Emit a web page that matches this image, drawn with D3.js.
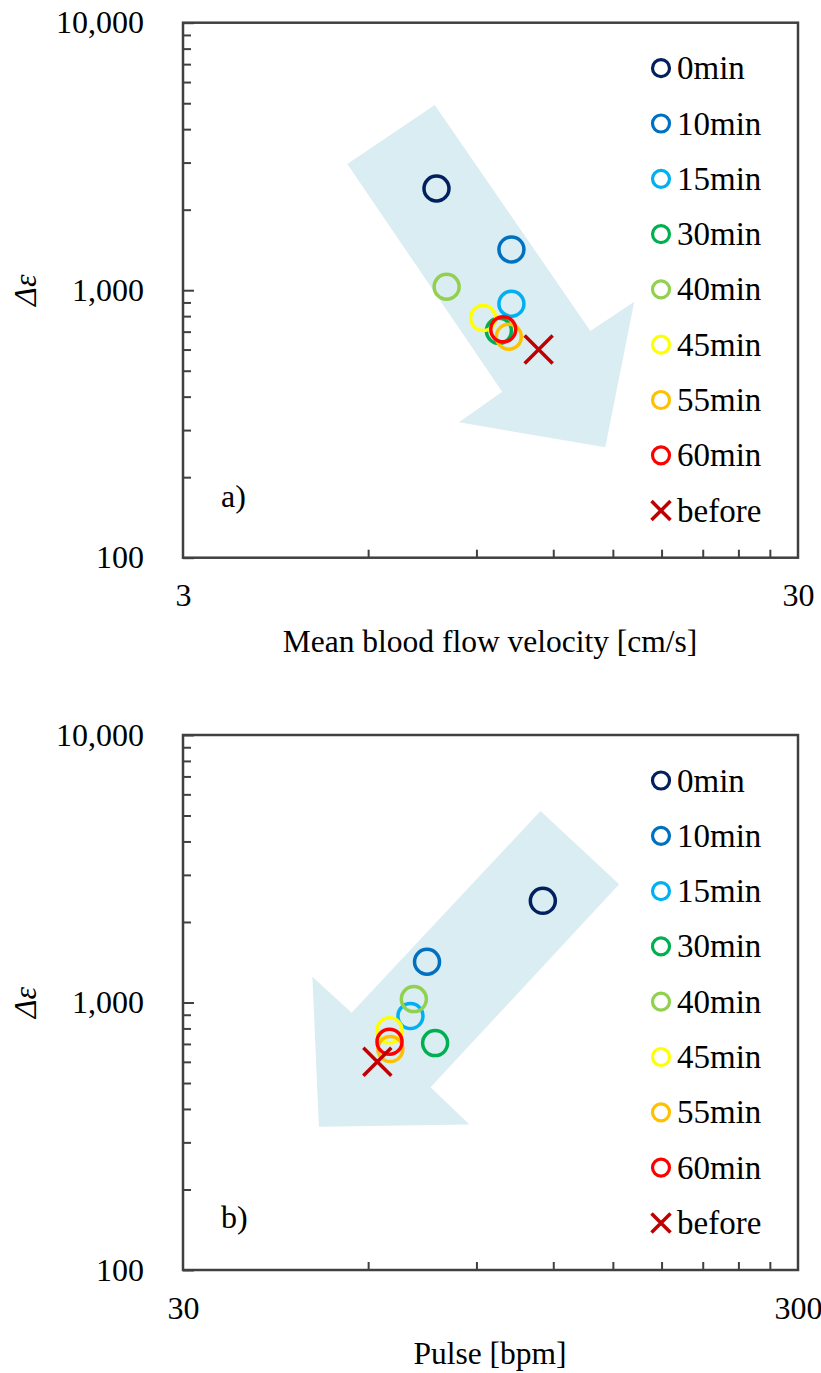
<!DOCTYPE html>
<html>
<head>
<meta charset="utf-8">
<script src="https://cdn.jsdelivr.net/npm/d3@7"></script>
<style>
  html, body { margin: 0; padding: 0; background: #fff; }
  svg { display: block; }
</style>
</head>
<body>
<script>
// Series (elapsed time after start) and their marker colours
const seriesNames = ["0min", "10min", "15min", "30min", "40min", "45min", "55min", "60min", "before"];
const seriesColors = ["#002060", "#0070C0", "#00B0F0", "#00B050", "#92D050", "#FFFF00", "#FFC000", "#FF0000", "#C00000"];

// Measured values per series
const meanVelocity = [7.75, 10.26, 10.26, 9.79, 8.05, 9.23, 10.16, 9.95, 11.36];   // cm/s
const pulseRate    = [115.4, 74.8, 70.3, 77.1, 71.2, 65.0, 65.2, 65.0, 62.1];      // bpm
const deltaEps     = [2400, 1420, 890, 705, 1030, 787, 670, 714, 600];

// Axis ticks
const yMajorTicks = [100, 1000, 10000];
const yMinorTicks = [200, 300, 400, 500, 600, 700, 800, 900, 2000, 3000, 4000, 5000, 6000, 7000, 8000, 9000];
const velocityLabels = [3, 30];
const velocityMinor = [6, 9, 12, 15, 18, 21, 24, 27];
const pulseLabels = [30, 300];
const pulseMinor = [60, 90, 120, 150, 180, 210, 240, 270];

// Trend arrows, vertices given in data units [x, Δε]
const velocityArrow = [[7.70, 4923], [5.55, 2965], [9.91, 417], [8.43, 321], [14.58, 258.6], [16.25, 906], [13.79, 704]];
const pulseArrow = [[114.4, 5198], [153.6, 2766], [75.8, 482], [87.7, 350], [49.9, 343], [48.7, 1249], [56.4, 916]];

const W = 821, H = 1373;
const plotLeft = 183, plotW = 615, plotH = 535;
const axisColor = "#404040";
const serif = "'Liberation Serif', 'Times New Roman', Times, serif";

const svg = d3.select("body").append("svg").attr("width", W).attr("height", H)
  .style("font-family", serif);

function setFont(sel, size, italic) {
  sel.style("font-family", serif).style("font-size", size + "px").attr("fill", "#000");
  if (italic) sel.style("font-style", "italic");
  return sel;
}

function drawPanel(cfg) {
  const g = svg.append("g").attr("transform", `translate(${plotLeft},${cfg.top})`);
  const x = d3.scaleLog().domain(cfg.xDomain).range([0, plotW]);
  const y = d3.scaleLog().domain([100, 10000]).range([plotH, 0]);

  // trend arrow
  g.append("path")
    .datum(cfg.arrow)
    .attr("d", d3.line().x(d => x(d[0])).y(d => y(d[1])).curve(d3.curveLinearClosed))
    .attr("fill", "#DAEDF3");

  // y axis: minor ticks (inward), major ticks with labels
  const yMinor = g.append("g").call(d3.axisLeft(y).tickValues(yMinorTicks).tickSize(-8).tickFormat(""));
  const yMajor = g.append("g").call(d3.axisLeft(y).tickValues(yMajorTicks).tickSize(-11).tickPadding(39).tickFormat(d3.format(",")));
  // x axis
  const xMinor = g.append("g").attr("transform", `translate(0,${plotH})`)
    .call(d3.axisBottom(x).tickValues(cfg.xMinor).tickSize(-8).tickFormat(""));
  const xMajor = g.append("g").attr("transform", `translate(0,${plotH})`)
    .call(d3.axisBottom(x).tickValues(cfg.xLabels).tickSize(0).tickPadding(26).tickFormat(d3.format("d")));

  [yMinor, yMajor, xMinor, xMajor].forEach(a => {
    a.select(".domain").remove();
    a.selectAll(".tick line").attr("stroke", axisColor).attr("stroke-width", 2);
    a.attr("font-family", null).attr("font-size", null);
    setFont(a.selectAll("text"), 32);
  });

  // plot frame
  g.append("rect")
    .attr("width", plotW).attr("height", plotH)
    .attr("fill", "none").attr("stroke", axisColor).attr("stroke-width", 2.5);

  // data markers, drawn in series order
  const xVals = cfg.xValues;
  seriesNames.forEach((name, i) => {
    const cx = x(xVals[i]), cy = y(deltaEps[i]);
    if (name === "before") {
      const s = 14;
      g.append("path")
        .attr("d", `M${cx - s},${cy - s}L${cx + s},${cy + s}M${cx - s},${cy + s}L${cx + s},${cy - s}`)
        .attr("stroke", seriesColors[i]).attr("stroke-width", 3.5).attr("fill", "none");
    } else {
      g.append("circle").attr("cx", cx).attr("cy", cy).attr("r", 12.5)
        .attr("fill", "none").attr("stroke", seriesColors[i]).attr("stroke-width", 3.5);
    }
  });

  // panel tag
  setFont(g.append("text").attr("x", 38).attr("y", cfg.tagBaseline).text(cfg.tag), 32);

  // legend
  const lg = g.append("g").attr("transform", "translate(478,45.5)");
  seriesNames.forEach((name, i) => {
    const row = lg.append("g").attr("transform", `translate(0,${i * 55.3})`);
    if (name === "before") {
      const s = 9.5;
      row.append("path")
        .attr("d", `M${-s},${-s}L${s},${s}M${-s},${s}L${s},${-s}`)
        .attr("stroke", seriesColors[i]).attr("stroke-width", 3.5).attr("fill", "none");
    } else {
      row.append("circle").attr("r", 8.5).attr("fill", "none")
        .attr("stroke", seriesColors[i]).attr("stroke-width", 3.2);
    }
    setFont(row.append("text").attr("x", 16).attr("y", 11).text(name), 33);
  });

  // axis titles
  setFont(g.append("text")
    .attr("x", plotW / 2 - 0.5).attr("y", plotH + 94)
    .attr("text-anchor", "middle")
    .text(cfg.xTitle), 31.5);
  setFont(g.append("text")
    .attr("transform", `translate(${36 - plotLeft},${y(1000)}) rotate(-90)`)
    .attr("text-anchor", "middle")
    .text("Δε"), 32, true);
}

drawPanel({
  top: 22.7,
  xDomain: [3, 30],
  xValues: meanVelocity,
  xMinor: velocityMinor,
  xLabels: velocityLabels,
  arrow: velocityArrow,
  xTitle: "Mean blood flow velocity [cm/s]",
  tag: "a)",
  tagBaseline: 484
});

drawPanel({
  top: 735,
  xDomain: [30, 300],
  xValues: pulseRate,
  xMinor: pulseMinor,
  xLabels: pulseLabels,
  arrow: pulseArrow,
  xTitle: "Pulse [bpm]",
  tag: "b)",
  tagBaseline: 493
});
</script>
</body>
</html>
